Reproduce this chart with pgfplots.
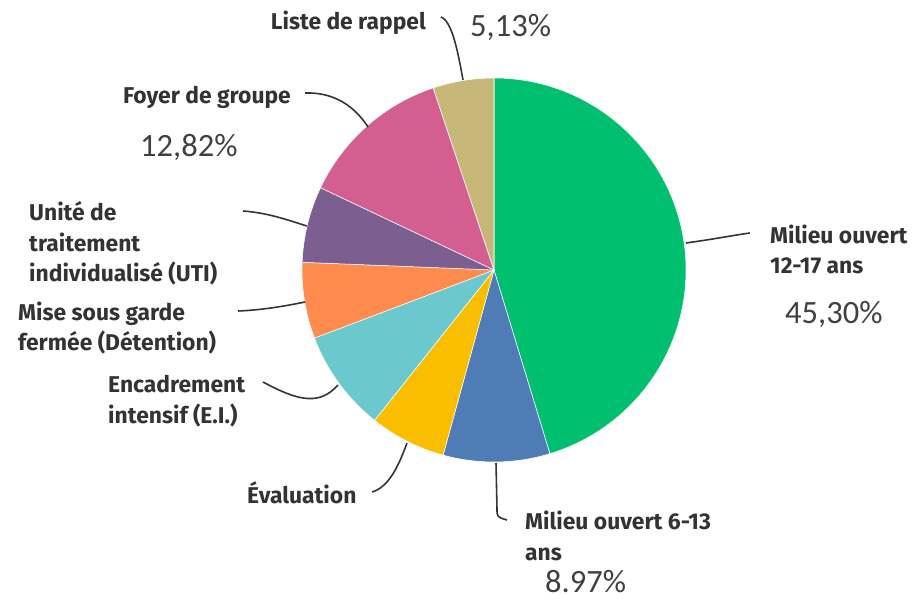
\documentclass[border=0pt]{standalone}
\usepackage{fontspec}
\usepackage{pgfplots}
\usepackage{pgfplotstable}
\pgfplotsset{compat=1.18}
\newfontfamily\lab{Fira Sans}
\newfontfamily\pct{Carlito}

\definecolor{cgreen}{HTML}{00BF6F}
\definecolor{cblue}{HTML}{507CB6}
\definecolor{cyellow}{HTML}{F9BE00}
\definecolor{ccyan}{HTML}{6BC8CD}
\definecolor{corange}{HTML}{FF8B4F}
\definecolor{cpurple}{HTML}{7D5E90}
\definecolor{cpink}{HTML}{D25F90}
\definecolor{ctan}{HTML}{C7B879}
\definecolor{txt}{HTML}{333333}
\definecolor{pcol}{HTML}{404040}

% share of answers, clockwise from 12 o'clock
\pgfplotstableread{
value color
45.30 cgreen
8.97  cblue
6.41  cyellow
8.55  ccyan
6.41  corange
6.41  cpurple
12.82 cpink
5.13  ctan
}\piedata

\begin{document}
\begin{tikzpicture}
\begin{axis}[
    width=18.34cm, height=11.94cm, scale only axis,
    xmin=0, xmax=917, ymin=0, ymax=597,
    hide axis, clip=false,
    every node/.style={inner sep=0pt, outer sep=0pt},
]
\path (axis cs:0,0) rectangle (axis cs:917,597);

\pgfplotstablegetrowsof{\piedata}
\pgfmathtruncatemacro\nrows{\pgfplotsretval-1}
\gdef\angstart{90}
\pgfplotsforeachungrouped \i in {0,...,\nrows}{
  \pgfplotstablegetelem{\i}{value}\of\piedata \let\val\pgfplotsretval
  \pgfplotstablegetelem{\i}{color}\of\piedata \let\col\pgfplotsretval
  \pgfmathsetmacro\angend{\angstart-3.6*\val}
  \edef\temp{\noexpand\fill[\col, draw=white, line width=0.3pt]
    (axis cs:494,327) -- ++(\angstart:3.84cm)
    arc[start angle=\angstart, end angle=\angend, radius=3.84cm] -- cycle;}
  \temp
  \global\let\angstart\angend
}

% leader lines
\begin{scope}[draw=txt, line width=0.9pt]
\draw (axis cs:441,580) .. controls (axis cs:452,576) and (axis cs:458,545) .. (axis cs:463,517);
\draw (axis cs:305,504) .. controls (axis cs:335,505) and (axis cs:355,490) .. (axis cs:368,470);
\draw (axis cs:243,386) .. controls (axis cs:270,384) and (axis cs:290,376) .. (axis cs:307,371);
\draw (axis cs:238,286) .. controls (axis cs:265,287) and (axis cs:290,292) .. (axis cs:305,295);
\draw (axis cs:263,215) .. controls (axis cs:300,195) and (axis cs:320,192) .. (axis cs:338,212);
\draw (axis cs:372,105) .. controls (axis cs:390,110) and (axis cs:400,135) .. (axis cs:407,154);
\draw (axis cs:496,134) -- (axis cs:497,88) .. controls (axis cs:497,80) .. (axis cs:507,77);
\draw (axis cs:686,354) .. controls (axis cs:715,358) and (axis cs:735,362) .. (axis cs:750,364);
\end{scope}

% category labels (base anchor = baseline of the last line)
\begin{scope}[every node/.append style={text=txt, align=left,
    font=\lab\bfseries\fontsize{13}{17.4}\selectfont}]
\node[anchor=base east] at (axis cs:432,567) {Liste de rappel};
\node[anchor=base east] at (axis cs:297,493) {Foyer de groupe};
\node[anchor=base west] at (axis cs:23,315) {Unité de\\traitement\\individualisé (UTI)};
\node[anchor=base west] at (axis cs:12,246) {Mise sous garde\\fermée (Détention)};
\node[anchor=base west] at (axis cs:102,174) {Encadrement\\intensif (E.I.)};
\node[anchor=base west] at (axis cs:241,94) {Évaluation};
\node[anchor=base west] at (axis cs:519,37) {Milieu ouvert 6-13\\ans};
\node[anchor=base west] at (axis cs:764,323) {Milieu ouvert\\12-17 ans};
\end{scope}

% percentages
\begin{scope}[every node/.append style={text=pcol,
    font=\pct\fontsize{18.5}{20}\selectfont}]
\node[anchor=base west] at (axis cs:464,560) {5,13\%};
\node[anchor=base west] at (axis cs:134,440) {12,82\%};
\node[anchor=base west] at (axis cs:539,5) {8.97\%};
\node[anchor=base west] at (axis cs:779,273) {45,30\%};
\end{scope}
\end{axis}
\end{tikzpicture}
\end{document}
